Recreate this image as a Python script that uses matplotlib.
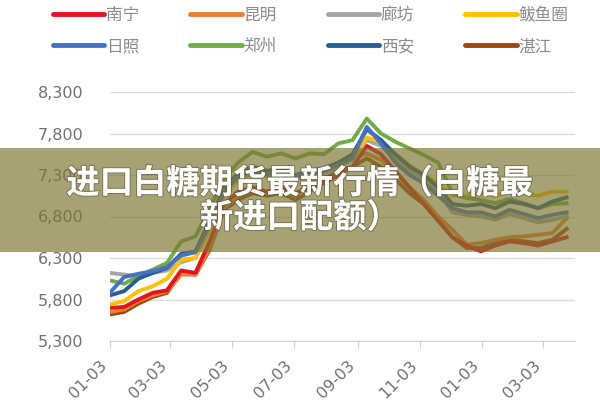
import matplotlib
matplotlib.use("Agg")
import matplotlib.pyplot as plt
import matplotlib.patheffects as pe
import matplotlib.patches as mpatches
import pandas as pd

plt.rcParams['font.family'] = ['DejaVu Sans', 'Noto Sans CJK SC']

# sample dates (every two weeks), Jan 2023 - Mar 2024
dates = pd.to_datetime([
    '2023-01-03', '2023-01-17', '2023-01-31', '2023-02-14', '2023-02-28',
    '2023-03-14', '2023-03-28', '2023-04-11', '2023-04-25', '2023-05-09',
    '2023-05-23', '2023-06-06', '2023-06-20', '2023-07-04', '2023-07-18',
    '2023-08-01', '2023-08-15', '2023-08-29', '2023-09-12', '2023-09-26',
    '2023-10-10', '2023-10-24', '2023-11-07', '2023-11-21', '2023-12-05',
    '2023-12-19', '2024-01-02', '2024-01-16', '2024-01-30', '2024-02-13',
    '2024-02-27', '2024-03-12', '2024-03-26',
])

nanning = [5700, 5710, 5800, 5880, 5910, 6150, 6120, 6500, 6950, 7100, 7150,
           7100, 7150, 7080, 7150, 7200, 7300, 7400, 7650, 7550, 7350, 7150,
           6950, 6750, 6550, 6450, 6380, 6450, 6500, 6480, 6450, 6500, 6550]
kunming = [5650, 5680, 5780, 5850, 5900, 6100, 6100, 6420, 6900, 7050, 7150,
           7080, 7100, 7050, 7200, 7350, 7450, 7500, 7560, 7480, 7320, 7150,
           7000, 6800, 6640, 6460, 6480, 6520, 6550, 6560, 6580, 6600, 6780]
langfang = [6120, 6100, 6080, 6120, 6150, 6250, 6300, 6650, 7050, 7250, 7320,
            7280, 7320, 7250, 7300, 7320, 7400, 7480, 7720, 7650, 7500, 7350,
            7250, 7100, 6850, 6820, 6800, 6760, 6830, 6780, 6730, 6760, 6800]
bayuquan = [5740, 5780, 5900, 5960, 6050, 6280, 6300, 6650, 7050, 7250, 7350,
            7300, 7330, 7270, 7330, 7350, 7420, 7500, 7750, 7700, 7550, 7420,
            7300, 7200, 7050, 7050, 7080, 7050, 7100, 7080, 7050, 7100, 7100]
rizhao = [5880, 6070, 6110, 6140, 6190, 6330, 6370, 6700, 7100, 7280, 7350,
          7300, 7350, 7280, 7330, 7350, 7420, 7500, 7880, 7680, 7450, 7300,
          7200, 7050, 6900, 6850, 6850, 6800, 6880, 6830, 6780, 6820, 6850]
zhengzhou = [6030, 5990, 6080, 6160, 6240, 6500, 6560, 6900, 7250, 7450, 7580,
             7520, 7560, 7500, 7560, 7550, 7680, 7720, 7980, 7800, 7700, 7620,
             7540, 7450, 7080, 7020, 7000, 6960, 7010, 6960, 6900, 6950, 6960]
xian = [5850, 5900, 6050, 6120, 6180, 6350, 6380, 6750, 7150, 7320, 7400,
        7350, 7380, 7300, 7350, 7380, 7450, 7550, 7850, 7720, 7550, 7400,
        7300, 7150, 6950, 6930, 6950, 6900, 6980, 6950, 6900, 6980, 7030]
zhanjiang = [5620, 5650, 5750, 5830, 5880, 6120, 6100, 6400, 6880, 7000, 7080,
             7050, 7080, 7000, 7100, 7250, 7350, 7400, 7500, 7400, 7250, 7080,
             6950, 6750, 6550, 6420, 6420, 6480, 6520, 6500, 6480, 6520, 6650]

names = ['南宁', '昆明', '廊坊', '鲅鱼圈', '日照', '郑州', '西安', '湛江']
series = [nanning, kunming, langfang, bayuquan, rizhao, zhengzhou, xian, zhanjiang]
colors = ['#e3141e', '#ed7d31', '#a5a5a5', '#ffc000',
          '#4472c4', '#70ad47', '#265e8f', '#9e480e']
draw_order = [7, 1, 0, 2, 3, 5, 6, 4]

tick_dates = pd.to_datetime(['2023-01-03', '2023-03-03', '2023-05-03', '2023-07-03',
                             '2023-09-03', '2023-11-03', '2024-01-03', '2024-03-03'])
tick_labels = ['01-03', '03-03', '05-03', '07-03', '09-03', '11-03', '01-03', '03-03']
yticks = [5300, 5800, 6300, 6800, 7300, 7800, 8300]

fig = plt.figure(figsize=(6, 4), dpi=100)
ax = fig.add_axes([0.183, 0.1475, 0.775, 0.6225])

lines = {}
for i in draw_order:
    ln, = ax.plot(dates, series[i], color=colors[i], lw=2.8, label=names[i])
    lines[i] = ln

ax.set_ylim(5300, 8300)
ax.set_xlim(pd.Timestamp('2023-01-03'), pd.Timestamp('2024-04-03'))
ax.set_yticks(yticks)
ax.set_yticklabels([f'{v:,}' for v in yticks], fontsize=11.5, color='#707070')
ax.tick_params(axis='y', length=0, pad=19)
ax.set_xticks(tick_dates)
ax.set_xticklabels(tick_labels, rotation=45, ha='right', fontsize=11.5, color='#707070')
ax.tick_params(axis='x', length=5, color='#d0d0d0', pad=7)
ax.grid(axis='y', color='#dcdcdc', lw=1)
ax.set_axisbelow(True)
for s in ['top', 'right', 'left']:
    ax.spines[s].set_visible(False)
ax.spines['bottom'].set_color('#d0d0d0')

# legend: matplotlib fills columns first, so reorder to get rows of four
leg_order = [0, 4, 1, 5, 2, 6, 3, 7]
leg = fig.legend([lines[i] for i in leg_order], [names[i] for i in leg_order],
                 loc='upper left', bbox_to_anchor=(0.063, 1.02),
                 ncol=4, frameon=False, handlelength=3.1, handletextpad=0.1,
                 columnspacing=3.05, labelspacing=0.85,
                 prop={'family': 'Noto Sans CJK SC', 'size': 12})
for t in leg.get_texts():
    t.set_color('#8c8c8c')
for h in leg.legend_handles:
    h.set_linewidth(3.5)
    h.set_solid_capstyle('round')

# title banner on top
fig.patches.append(mpatches.Rectangle((0, 1 - 252 / 400), 1, 104 / 400,
                                      transform=fig.transFigure,
                                      facecolor=(0.49, 0.467, 0.2), alpha=0.68,
                                      edgecolor='none', zorder=10))
fig.text(0.5, 0.4975, '进口白糖期货最新行情（白糖最\n新进口配额）',
         ha='center', va='center', fontsize=24, fontweight='black', color='white',
         family='Noto Sans CJK SC', linespacing=1.05, zorder=11,
         path_effects=[pe.withStroke(linewidth=1.5, foreground=(0.3, 0.3, 0.2, 0.5))])

fig.savefig('out.png', dpi=100)
